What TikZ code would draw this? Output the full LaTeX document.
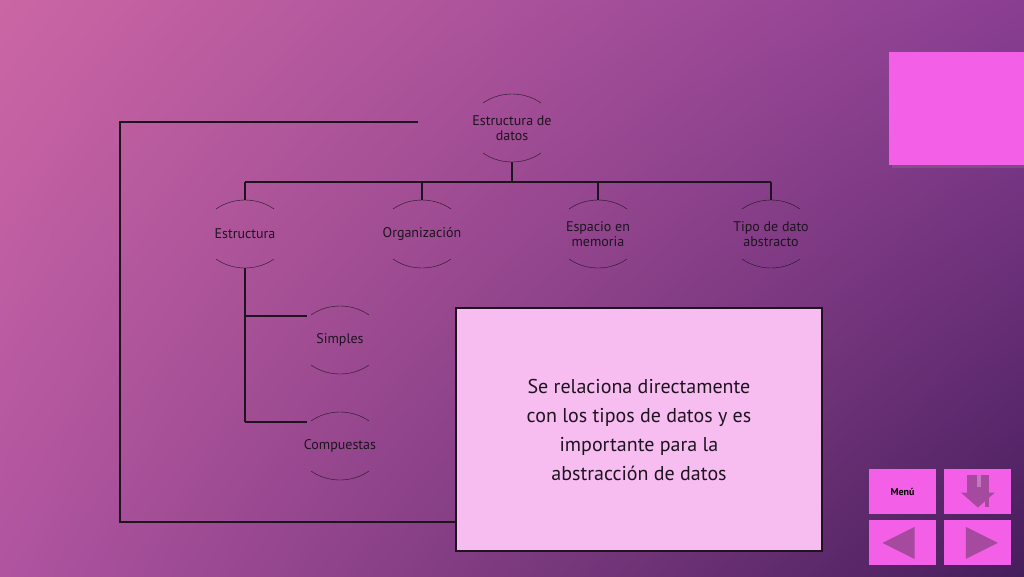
\documentclass[tikz,border=0pt]{standalone}
\usepackage{fontspec}
\setmainfont{PT Sans}
\usetikzlibrary{positioning,shadows,shadings}
\definecolor{btnpink}{HTML}{F35FE6}
\definecolor{boxpink}{HTML}{F7BDF1}
\definecolor{btnmark}{HTML}{A54A9E}
\definecolor{inkline}{HTML}{1E1420}
\definecolor{bgul}{RGB}{203,102,164}
\definecolor{bgur}{RGB}{138,62,146}
\definecolor{bgll}{RGB}{176,84,160}
\definecolor{bglr}{RGB}{70,30,92}
\newcommand{\twoarcs}[1]{%
  \draw[thin, inkline] ([xshift=-29pt,yshift=25pt]#1.center) .. controls ([xshift=-12pt,yshift=37pt]#1.center) and ([xshift=12pt,yshift=37pt]#1.center) .. ([xshift=29pt,yshift=25pt]#1.center);
  \draw[thin, inkline] ([xshift=-29pt,yshift=-25pt]#1.center) .. controls ([xshift=-12pt,yshift=-37pt]#1.center) and ([xshift=12pt,yshift=-37pt]#1.center) .. ([xshift=29pt,yshift=-25pt]#1.center);}
\begin{document}
\begin{tikzpicture}[x=1pt, y=-1pt, font=\fontsize{14}{15}\selectfont]
\tikzset{topic/.style={text=inkline, align=center, inner sep=1pt}}
\tikzset{link/.style={draw=inkline, line width=1.4pt}}
\tikzset{btn/.style={fill=btnpink, draw=none, minimum width=67pt, minimum height=45pt, inner sep=0pt}}
\useasboundingbox (0,0) rectangle (1024,576);
\shade[upper left=bgul, upper right=bgur, lower left=bgll, lower right=bglr] (0,0) rectangle (1024,576);
% tree
\node[topic] (root) at (512,128) {Estructura de\\datos};
\node[topic] (estr) at (245,234) {Estructura};
\node[topic] (org)  at (422,234) {Organización};
\node[topic] (esp)  at (598,234) {Espacio en\\memoria};
\node[topic] (tipo) at (771,234) {Tipo de dato\\abstracto};
\node[topic] (simp) at (340,340) {Simples};
\node[topic] (comp) at (340,446) {Compuestas};
\foreach \n in {root,estr,org,esp,tipo,simp,comp} {\twoarcs{\n}}
\coordinate (bus) at (512,182);
\draw[link] ([yshift=-34pt]root.center) -- (bus);
\draw[link] (245,182) -- (771,182);
\foreach \n in {estr,org,esp,tipo} {\draw[link] (\n.center |- bus) -- ([yshift=34pt]\n.center);}
\coordinate (stemend) at (245,422);
\draw[link] ([yshift=-34pt]estr.center) -- (stemend);
\draw[link] (245,316) -- ([xshift=-33pt,yshift=24pt]simp.center);
\draw[link] (stemend) -- ([xshift=-33pt,yshift=24pt]comp.center);
% bracket and note
\node[draw=inkline, line width=1.4pt, fill=boxpink, minimum width=366pt, minimum height=243pt, align=center,
  font=\fontsize{20}{29}\selectfont, text=inkline] (note) at (639,429.5)
  {Se relaciona directamente\\con los tipos de datos y es\\importante para la\\abstracción de datos};
\coordinate (brtop) at (418,122);
\draw[link, line width=2pt] (brtop) -- (120,122) -- (120,522) -- (note.west |- 0,522);
% corner square
\node[btn, minimum width=135pt, minimum height=113pt, drop shadow={opacity=0.35}] (corner) at (956.5,108.5) {};
% buttons
\node[btn, font=\fontsize{10}{10}\selectfont\bfseries, text=black] (menu) at (902.5,491.5) {Menú};
\node[btn, right=8pt of menu] (home) {};
\node[btn, below=6pt of menu] (prev) {};
\node[btn, right=8pt of prev] (next) {};
\fill[btnmark] ([xshift=-17pt,yshift=-1pt]home.center) -- ([yshift=-16pt]home.center) -- ([xshift=17pt,yshift=-1pt]home.center) -- cycle;
\fill[btnmark] ([xshift=-11pt,yshift=-1pt]home.center) rectangle ([xshift=11pt,yshift=17pt]home.center);
\fill[btnmark] ([xshift=7pt,yshift=-15pt]home.center) rectangle ([xshift=11pt,yshift=-6pt]home.center);
\fill[boxpink!40!btnmark] ([xshift=-1pt,yshift=5pt]home.center) rectangle ([xshift=3pt,yshift=17pt]home.center);
\fill[btnmark] ([xshift=-20pt]prev.center) -- ([xshift=12pt,yshift=-16pt]prev.center) -- ([xshift=12pt,yshift=16pt]prev.center) -- cycle;
\fill[btnmark] ([xshift=20pt]next.center) -- ([xshift=-12pt,yshift=-16pt]next.center) -- ([xshift=-12pt,yshift=16pt]next.center) -- cycle;
\end{tikzpicture}
\end{document}
